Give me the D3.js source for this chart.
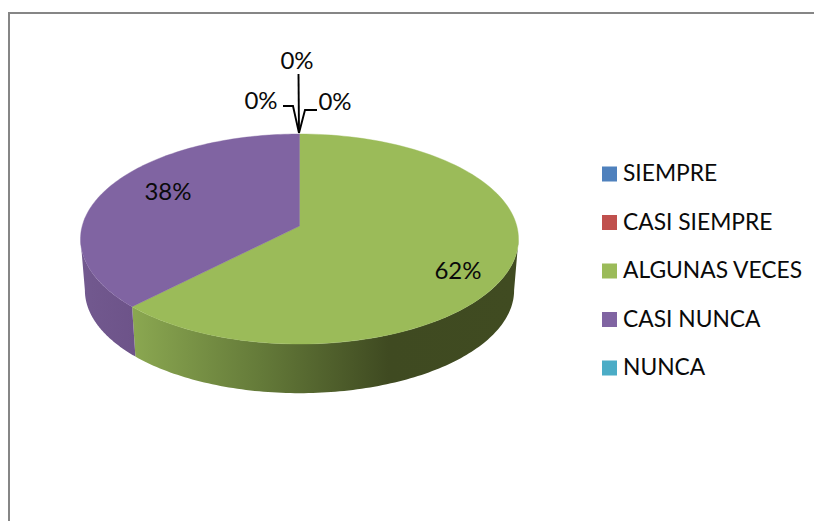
<!DOCTYPE html>
<html><head><meta charset="utf-8">
<script src="https://cdn.jsdelivr.net/npm/d3@7"></script>
<style>html,body{margin:0;padding:0;background:#fff}svg{display:block}text{font-family:Lato,Carlito,sans-serif;fill:#0a0a0a}</style>
</head><body><svg id="c" width="814" height="521"></svg>
<script>
const categories = ["SIEMPRE","CASI SIEMPRE","ALGUNAS VECES","CASI NUNCA","NUNCA"];
const values = [0,0,62.4,37.6,0];
const colors = ["#4F81BD","#C0504D","#9BBB59","#8064A2","#4BACC6"];
const labelText = d3.format(".0f");

(function(){
const svg = d3.select("#c");
svg.append("path").attr("d","M9 521V13H814").attr("fill","none").attr("stroke","#868686").attr("stroke-width",2);

// perspective projection of a unit disc (u right, v down)
const k=0.1238, X=217.3, Y=103.4, cx=299.5;
const proj=(a,r,y0,s)=>{const u=r*Math.sin(a),v=-r*Math.cos(a),w=1-k*v;return [cx+s*X*u/w,y0+s*Y*v/w];};
const rimTop=(a,r=1)=>proj(a,r,226,1), rimBot=a=>proj(a,1,277.5,.98);
const line=d3.line();
const arcPts=(f,a0,a1)=>d3.range(0,121).map(i=>f(a0+(a1-a0)*i/120));

const pie=d3.pie().sort(null).value(d=>d).startAngle(0).endAngle(2*Math.PI);
const arcs=pie(values);
const defs=svg.append("defs");
const g1=defs.append("linearGradient").attr("id","gw").attr("gradientUnits","userSpaceOnUse").attr("x1",131).attr("x2",515).attr("y1",0).attr("y2",0);
[[0,"#8BA851"],[.34,"#647A39"],[.67,"#3F4A21"],[1,"#404B21"]].forEach(s=>g1.append("stop").attr("offset",s[0]).attr("stop-color",s[1]));
const g2=defs.append("linearGradient").attr("id","pw").attr("gradientUnits","userSpaceOnUse").attr("x1",81).attr("x2",135).attr("y1",0).attr("y2",0);
[[0,"#72598F"],[1,"#6D5389"]].forEach(s=>g2.append("stop").attr("offset",s[0]).attr("stop-color",s[1]));
const wallFill={2:"url(#gw)",3:"url(#pw)"};

// side walls: visible between the two silhouette tangents of the rim
const lo=Math.acos(-k), hi=2*Math.PI-lo;
arcs.forEach((d,i)=>{
  const a0=Math.max(d.startAngle,lo),a1=Math.min(d.endAngle,hi);
  if(a1<=a0||d.value===0) return;
  const pts=arcPts(rimTop,a0,a1).concat(arcPts(rimBot,a1,a0));
  svg.append("path").attr("d",line(pts)+"Z").attr("fill",wallFill[i]||colors[i]);
});
// top faces
arcs.forEach((d,i)=>{
  if(d.value===0) return;
  const pts=[rimTop(0,0)].concat(arcPts(rimTop,d.startAngle,d.endAngle));
  svg.append("path").attr("d",line(pts)+"Z").attr("fill",colors[i]).attr("stroke",colors[i]).attr("stroke-width",.4);
});

// leader lines
const tip=rimTop(0);
[[[283,106],[293,106]],[[298.5,74]],[[317,110],[305,110]]].forEach(p=>{
  svg.append("path").attr("d",line(p.concat([[tip[0]-.5,tip[1]-1]]))).attr("fill","none").attr("stroke","#000").attr("stroke-width",1.9);
});

// data labels
const labelAt=[[261,99],[297,59],[458,269],[168,190],[335,100]];
values.forEach((v,i)=>{
  svg.append("text").attr("x",labelAt[i][0]).attr("y",labelAt[i][1]).attr("text-anchor","middle").attr("dominant-baseline","central")
    .attr("font-size",24).text(labelText(v)+"%");
});

// legend
const ly=d3.scalePoint().domain(categories).range([172,366]);
categories.forEach((c,i)=>{
  svg.append("rect").attr("x",602).attr("y",ly(c)-5.5).attr("width",15).attr("height",15).attr("fill",colors[i]);
  svg.append("text").attr("x",623).attr("y",ly(c)).attr("dominant-baseline","central").attr("font-size",22.8).text(c);
});
})();
</script></body></html>
